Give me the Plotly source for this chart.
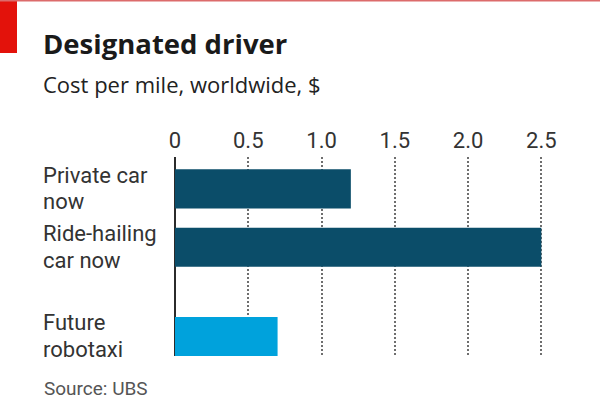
import plotly.graph_objects as go

# ---- data ----
categories = ["Private car now", "Ride-hailing car now", "Future robotaxi"]
label_line1 = ["Private car", "Ride-hailing", "Future"]
label_line2 = ["now", "car now", "robotaxi"]
groups = ["now", "now", "future"]
values = [1.2, 2.5, 0.7]
tick_vals = [0, 0.5, 1.0, 1.5, 2.0, 2.5]
tick_text = ["0", "0.5", "1.0", "1.5", "2.0", "2.5"]

title = "Designated driver"
subtitle = "Cost per mile, worldwide, $"
source = "Source: UBS"

# ---- layout constants ----
W, H = 600, 413
L, R, T, B = 175, 44, 157, 57
PW, PH = W - L - R, H - T - B
GROUP_GAP = 0.53
BAR_W = 0.67

def px_x(x):
    return (x - L) / PW

def px_y(y):
    return (H - B - y) / PH

# positions: index plus extra gap whenever the group changes
positions = []
offset = 0.0
for i, g in enumerate(groups):
    if i > 0 and g != groups[i - 1]:
        offset += GROUP_GAP
    positions.append(i + offset)

colors = ["#0b4d69" if g == "now" else "#00a2dc" for g in groups]

LABEL_FONT = "Roboto, Liberation Sans, sans-serif"
TITLE_FONT = "Open Sans, Liberation Sans, sans-serif"

fig = go.Figure(
    go.Bar(
        x=values,
        y=positions,
        orientation="h",
        width=BAR_W,
        marker=dict(color=colors, line=dict(width=0)),
        hovertext=categories,
        hoverinfo="text+x",
    )
)

fig.update_layout(
    width=W,
    height=H,
    margin=dict(l=L, r=R, t=T, b=B, pad=0),
    paper_bgcolor="white",
    plot_bgcolor="white",
    showlegend=False,
    font=dict(family=LABEL_FONT, color="#333333"),
    xaxis=dict(
        side="top",
        range=[0, 2.6],
        tickvals=tick_vals,
        ticktext=tick_text,
        tickfont=dict(size=22, color="#333333", family=LABEL_FONT),
        ticks="",
        ticklabelstandoff=4,
        showgrid=True,
        gridcolor="#6e6e6e",
        gridwidth=2,
        griddash="2px,2px",
        zeroline=True,
        zerolinecolor="#2b2b2b",
        zerolinewidth=2,
        showline=False,
        fixedrange=True,
    ),
    yaxis=dict(
        range=[positions[-1] + BAR_W / 2, -0.546],
        showticklabels=False,
        showgrid=False,
        zeroline=False,
        showline=False,
        ticks="",
        fixedrange=True,
    ),
)

annotations = []
# category labels, two lines each
for pos, l1, l2 in zip(positions, label_line1, label_line2):
    for txt, shift in ((l1, 13.5), (l2, -13.0)):
        annotations.append(dict(
            text=txt, x=px_x(42), xref="paper", y=pos, yref="y",
            xanchor="left", yanchor="middle", yshift=shift, showarrow=False,
            borderpad=0,
            font=dict(size=22, color="#333333", family=LABEL_FONT),
        ))

annotations.append(dict(
    text="<b>" + title + "</b>", x=px_x(41), xref="paper", y=px_y(22.5), yref="paper",
    xanchor="left", yanchor="top", showarrow=False,
    font=dict(size=27.5, color="#1a1a1a", family=TITLE_FONT),
))
annotations.append(dict(
    text=subtitle, x=px_x(41), xref="paper", y=px_y(67), yref="paper",
    xanchor="left", yanchor="top", showarrow=False,
    font=dict(size=22, color="#222222", family=TITLE_FONT),
))
annotations.append(dict(
    text=source, x=px_x(42), xref="paper", y=px_y(375), yref="paper",
    xanchor="left", yanchor="top", showarrow=False,
    font=dict(size=19, color="#555555", family=LABEL_FONT),
))
fig.update_layout(annotations=annotations)

fig.update_layout(shapes=[
    dict(type="rect", xref="paper", yref="paper",
         x0=px_x(0), x1=px_x(17), y0=px_y(0), y1=px_y(53),
         fillcolor="#e3120b", line=dict(width=0), layer="above"),
    dict(type="rect", xref="paper", yref="paper",
         x0=px_x(0), x1=px_x(W), y0=px_y(0), y1=px_y(1.5),
         fillcolor="#dc6b6b", line=dict(width=0), layer="above"),
])

fig.write_html(
    "out.html",
    config={"displayModeBar": False},
    post_script="document.body.style.margin='0';",
)
